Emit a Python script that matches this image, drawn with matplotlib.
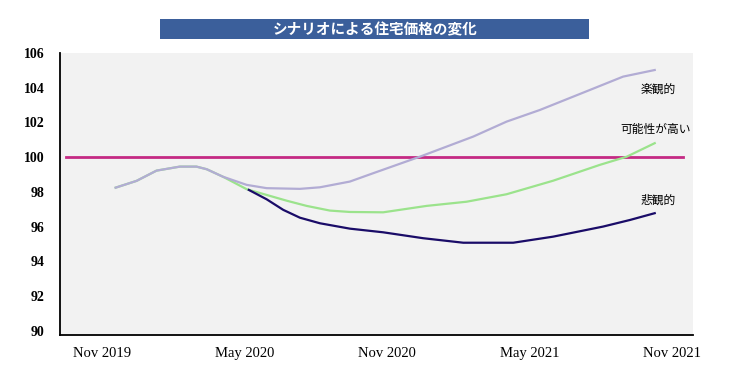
import numpy as np
import matplotlib.pyplot as plt
from matplotlib.patches import Rectangle

plt.rcParams['font.family'] = ['Noto Sans CJK JP', 'DejaVu Sans']

# months counted from Nov 2019
opt_x = [0.59, 1.47, 2.31, 3.29, 3.99, 4.42, 5.10, 6.10, 6.94, 8.34, 9.18, 10.44,
         11.42, 13.38, 15.63, 17.03, 18.43, 20.53, 21.93, 23.26]
opt_y = [98.25, 98.64, 99.23, 99.46, 99.46, 99.31, 98.88, 98.41, 98.22, 98.18, 98.27, 98.60,
         99.08, 100.03, 101.19, 102.05, 102.72, 103.87, 104.64, 105.02]

base_x = [0.59, 1.47, 2.31, 3.29, 3.99, 4.42, 5.10, 6.10, 6.94, 7.78, 8.62, 9.60, 10.44,
          11.84, 13.67, 15.35, 17.03, 18.99, 20.95, 22.08, 23.26]
base_y = [98.25, 98.64, 99.23, 99.46, 99.46, 99.31, 98.88, 98.16, 97.83, 97.50, 97.20, 96.93, 96.85,
          96.83, 97.20, 97.44, 97.87, 98.65, 99.56, 100.03, 100.81]

pes_x = [6.19, 6.94, 7.64, 8.34, 9.18, 10.44, 11.84, 13.52, 15.21, 17.31, 18.99, 21.09, 22.22, 23.26]
pes_y = [98.12, 97.58, 96.97, 96.52, 96.20, 95.89, 95.68, 95.34, 95.08, 95.08, 95.43, 96.01, 96.39, 96.78]

tick_pos = [0, 6, 12, 18, 24]
tick_labels = ['Nov 2019', 'May 2020', 'Nov 2020', 'May 2021', 'Nov 2021']
y_ticks = [90, 92, 94, 96, 98, 100, 102, 104, 106]

fig = plt.figure(figsize=(7.5, 3.75), dpi=100)
ax = fig.add_axes([0.08, 0.1067, 0.844, 0.752])
ax.set_facecolor('#f2f2f2')

ax.plot([-1.5, 24.45], [100, 100], color='#c42a84', lw=2.0, zorder=2)
ax.plot(base_x, base_y, color='#9be38c', lw=1.6, zorder=3)
ax.plot(opt_x, opt_y, color='#b2acd4', lw=1.6, zorder=4)
ax.plot(pes_x, pes_y, color='#1a0c68', lw=1.6, zorder=5)

ax.text(23.4, 103.87, '楽観的', fontsize=8.5, ha='center', va='center')
ax.text(23.29, 101.57, '可能性が高い', fontsize=8.5, ha='center', va='center')
ax.text(23.4, 97.54, '悲観的', fontsize=8.5, ha='center', va='center')

ax.set_xlim(-1.75, 24.87)
ax.set_ylim(89.77, 106.0)
ax.set_xticks(tick_pos)
ax.set_xticklabels(tick_labels, family='Liberation Serif', fontsize=10.5)
ax.set_yticks(y_ticks)
ax.set_yticklabels([str(v) for v in y_ticks], family='Liberation Serif', fontsize=10, fontweight='bold')
ax.tick_params(axis='both', length=0)
ax.tick_params(axis='x', pad=9)
ax.tick_params(axis='y', pad=11)
for s in ['top', 'right']:
    ax.spines[s].set_visible(False)
for s in ['left', 'bottom']:
    ax.spines[s].set_linewidth(1.3)
    ax.spines[s].set_color('black')

fig.patches.append(Rectangle((0.2133, 0.896), 0.572, 0.053, transform=fig.transFigure,
                             facecolor='#3b5f9b', edgecolor='none'))
fig.text(0.5, 0.9225, 'シナリオによる住宅価格の変化', color='white', fontsize=10.5,
         ha='center', va='center', fontweight='bold')

fig.savefig('out.png', dpi=100)
